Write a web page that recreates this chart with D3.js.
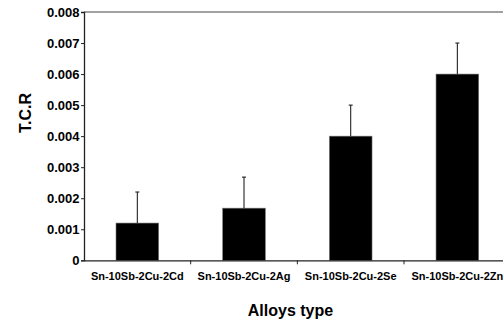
<!DOCTYPE html>
<html>
<head>
<meta charset="utf-8">
<script src="https://cdn.jsdelivr.net/npm/d3@7"></script>
<style>
  body { margin: 0; background: #fff; }
  text { font-family: "Liberation Sans", Arial, sans-serif; font-weight: bold; fill: #000; }
</style>
</head>
<body>
<div id="chart"></div>
<script>
"use strict";
// chart values
const alloys = ["Sn-10Sb-2Cu-2Cd", "Sn-10Sb-2Cu-2Ag", "Sn-10Sb-2Cu-2Se", "Sn-10Sb-2Cu-2Zn"]
const tcr = [0.0012, 0.00168, 0.004, 0.006]
const tcrErr = [0.001, 0.001, 0.001, 0.001]
const yTicks = [0, 0.001, 0.002, 0.003, 0.004, 0.005, 0.006, 0.007, 0.008]

const size = { width: 503, height: 320 }
const plot = { left: 84, right: 510.7, top: 12, bottom: 260.3 }

const svg = d3.select("#chart").append("svg")
    .attr("width", size.width)
    .attr("height", size.height)

const x = d3.scaleBand()
    .domain(alloys)
    .range([plot.left, plot.right])
    .paddingInner(0.6)
    .paddingOuter(0.3)

const y = d3.scaleLinear()
    .domain([0, 0.008])
    .range([plot.bottom, plot.top])

// top frame line
svg.append("line")
    .attr("x1", plot.left).attr("x2", plot.right)
    .attr("y1", y(0.008)).attr("y2", y(0.008))
    .attr("stroke", "#444").attr("stroke-width", 1.2)

// bars
svg.selectAll(".bar")
    .data(alloys)
    .enter()
    .append("rect")
    .attr("class", "bar")
    .attr("x", d => x(d))
    .attr("width", x.bandwidth())
    .attr("y", (d, i) => y(tcr[i]))
    .attr("height", (d, i) => y(0) - y(tcr[i]))
    .attr("fill", "#000")
    .attr("stroke", "#777")
    .attr("stroke-width", 0.6)

// error bars (upper only)
const err = svg.selectAll(".err")
    .data(alloys)
    .enter()
    .append("g")
    .attr("class", "err")
    .attr("stroke", "#222")
    .attr("stroke-width", 1.1)
err.append("line")
    .attr("x1", d => x(d) + x.bandwidth() / 2)
    .attr("x2", d => x(d) + x.bandwidth() / 2)
    .attr("y1", (d, i) => y(tcr[i]))
    .attr("y2", (d, i) => y(tcr[i] + tcrErr[i]))
err.append("line")
    .attr("x1", d => x(d) + x.bandwidth() / 2 - 2)
    .attr("x2", d => x(d) + x.bandwidth() / 2 + 2)
    .attr("y1", (d, i) => y(tcr[i] + tcrErr[i]))
    .attr("y2", (d, i) => y(tcr[i] + tcrErr[i]))

// y axis
const yAxis = d3.axisLeft(y)
    .tickValues(yTicks)
    .tickFormat(d => d === 0 ? "0" : d3.format(".3f")(d))
    .tickSize(3)
    .tickPadding(1.5)
const gy = svg.append("g")
    .attr("transform", `translate(${plot.left},0)`)
    .call(yAxis)
gy.select(".domain").attr("stroke", "#222").attr("stroke-width", 1.3)
gy.selectAll(".tick line").attr("stroke", "#222")
gy.selectAll("text")
    .style("font-family", "'Liberation Sans', Arial, sans-serif")
    .style("font-weight", "bold")
    .style("font-size", "13px")
    .attr("fill", "#000")

// x axis: ticks sit between categories
const step = x.step()
const xAxis = d3.axisBottom(x).tickSize(0).tickPadding(12)
const gx = svg.append("g")
    .attr("transform", `translate(0,${plot.bottom})`)
    .call(xAxis)
gx.select(".domain").attr("stroke", "#222").attr("stroke-width", 1.3)
gx.selectAll("text")
    .style("font-family", "'Liberation Sans', Arial, sans-serif")
    .style("font-weight", "bold")
    .style("font-size", "11px")
    .attr("fill", "#000")
gx.selectAll(".sep")
    .data(alloys.slice(1))
    .enter()
    .append("line")
    .attr("class", "sep")
    .attr("x1", d => x(d) - step * 0.3)
    .attr("x2", d => x(d) - step * 0.3)
    .attr("y1", 0).attr("y2", 4)
    .attr("stroke", "#222")

// axis titles
svg.append("text")
    .attr("transform", "translate(31,113) rotate(-90)")
    .attr("text-anchor", "middle")
    .style("font-size", "16px")
    .text("T.C.R")

svg.append("text")
    .attr("x", 290.5)
    .attr("y", 316)
    .attr("text-anchor", "middle")
    .style("font-size", "16px")
    .text("Alloys type")
</script>
</body>
</html>
